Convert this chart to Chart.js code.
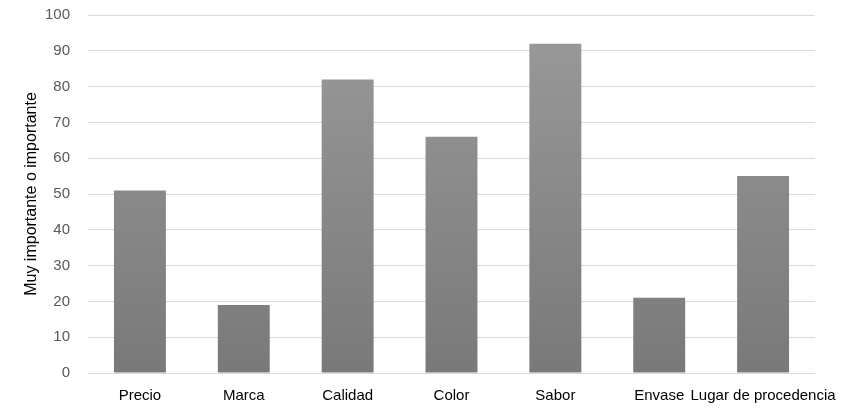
<!DOCTYPE html>
<html><head><meta charset="utf-8">
<script src="https://cdn.jsdelivr.net/npm/chart.js@4/dist/chart.umd.min.js"></script>
<style>html,body{margin:0;padding:0;background:#fff;}#wrap{width:853px;height:418px;}</style>
</head><body><div id="wrap"><canvas id="c" width="853" height="418"></canvas></div>
<script>
const categories = ["Precio","Marca","Calidad","Color","Sabor","Envase","Lugar de procedencia"];
const values = [51, 19, 82, 66, 92, 21, 55];
const yTitle = "Muy importante o importante";

function barGradient(context){
  const chart = context.chart;
  const {ctx, chartArea} = chart;
  if(!chartArea) return '#888';
  const g = ctx.createLinearGradient(0, chartArea.bottom, 0, chartArea.top);
  g.addColorStop(0, '#797979');
  g.addColorStop(1, '#9a9a9a');
  return g;
}

new Chart(document.getElementById('c'), {
  type: 'bar',
  data: { labels: categories, datasets: [{ data: values, backgroundColor: barGradient, barPercentage: 0.5, categoryPercentage: 1.0 }] },
  options: {
    responsive: false, animation: false,
    layout: { padding: { top: 15, right: 38, left: 22, bottom: 0 } },
    plugins: { legend: { display: false }, tooltip: { enabled: false } },
    scales: {
      x: {
        grid: { display: false },
        border: { display: false },
        ticks: { color: '#000', font: { family: "'Liberation Sans Narrow', 'Liberation Sans', sans-serif", size: 15 }, padding: 6, maxRotation: 0, autoSkip: false },
        afterFit: s => { s.height = 45; s.paddingLeft = 0; s.paddingRight = 0; }
      },
      y: {
        min: 0, max: 100,
        ticks: { stepSize: 10, color: '#595959', font: { family: "'Liberation Sans', Arial, sans-serif", size: 15 }, padding: 18 },
        grid: { color: '#d9d9d9', lineWidth: 1, drawTicks: false },
        border: { display: false },
        title: { display: true, text: yTitle, color: '#000', font: { family: "'Liberation Sans', Arial, sans-serif", size: 16 }, padding: 0 },
        afterFit: s => { s.width = 66; s.paddingTop = 0; s.paddingBottom = 0; }
      }
    }
  }
});
</script></body></html>
